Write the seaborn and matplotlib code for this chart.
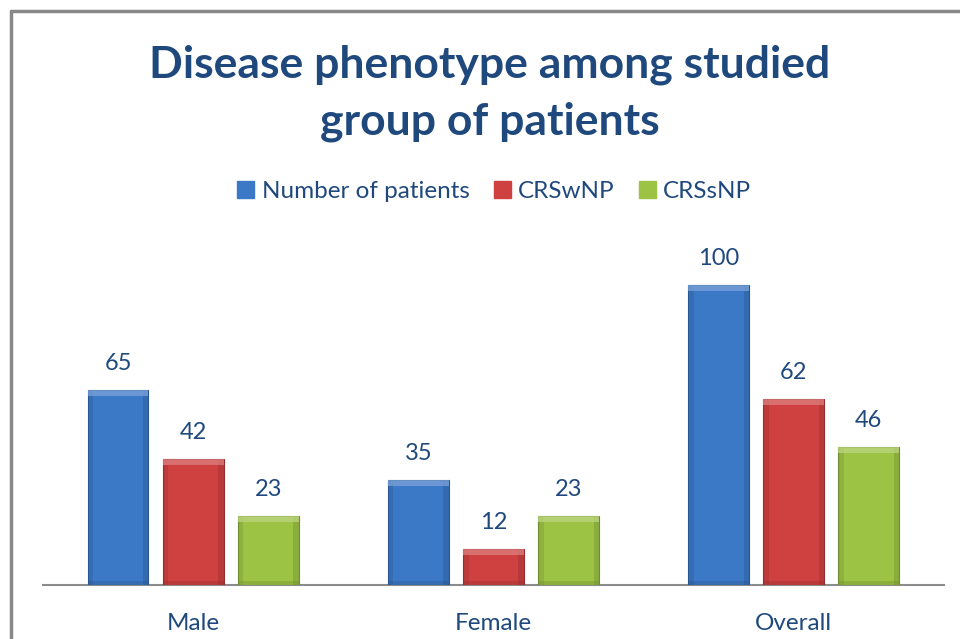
import matplotlib
matplotlib.use("Agg")
import matplotlib.pyplot as plt
import seaborn as sns
import pandas as pd
from matplotlib.patches import Rectangle, Patch
import matplotlib.colors as mcolors

categories = ["Male", "Female", "Overall"]
series_names = ["Number of patients", "CRSwNP", "CRSsNP"]
number_of_patients = [65, 35, 100]
crswnp = [42, 12, 62]
crssnp = [23, 23, 46]
title_text = "Disease phenotype among studied\ngroup of patients"

colors = ["#3B78C6", "#CF4141", "#9CC343"]
text_color = "#1F497D"

rows = []
for name, vals in zip(series_names, [number_of_patients, crswnp, crssnp]):
    for c, v in zip(categories, vals):
        rows.append({"category": c, "series": name, "value": v})
df = pd.DataFrame(rows)

sns.set_theme(style="white")
plt.rcParams["font.family"] = ["Lato", "DejaVu Sans"]

fig = plt.figure(figsize=(9.6, 6.39), dpi=100)
ax = fig.add_axes([0.0448, 0.0845, 0.9385, 0.5635])

sns.barplot(data=df, x="category", y="value", hue="series", order=categories,
            hue_order=series_names, palette=colors, width=0.75, gap=0.19,
            saturation=1, ax=ax, legend=False, zorder=3)

ax.set_ylim(0, 120)
ax.set_xlim(-0.5, 2.5)

# bevel effect and labels
for container, col in zip(ax.containers, colors):
    base = mcolors.to_rgb(col)
    dark = tuple(c * 0.72 for c in base)
    light = tuple(min(1, c + (1 - c) * 0.35) for c in base)
    for bar in container:
        x0, w, h = bar.get_x(), bar.get_width(), bar.get_height()
        bar.set_edgecolor(dark)
        bar.set_linewidth(0.8)
        sw = w * 0.09
        th = 2.0
        ax.add_patch(Rectangle((x0, 0), sw, h, color=dark, alpha=0.3, lw=0, zorder=4))
        ax.add_patch(Rectangle((x0 + w - sw, 0), sw, h, color=dark, alpha=0.4, lw=0, zorder=4))
        ax.add_patch(Rectangle((x0, h - th), w, th, color=light, alpha=0.7, lw=0, zorder=4))
        ax.add_patch(Rectangle((x0, 0), w, 1.5, color=dark, alpha=0.35, lw=0, zorder=4))
        ax.annotate(f"{int(h)}", (x0 + w / 2, h), xytext=(0, 19), textcoords="offset points",
                    ha="center", va="center", fontsize=17, color=text_color)

for s in ["top", "right", "left"]:
    ax.spines[s].set_visible(False)
ax.spines["bottom"].set_color("#8C8C8C")
ax.spines["bottom"].set_linewidth(1.5)
ax.set_yticks([])
ax.set_xlabel("")
ax.set_ylabel("")
ax.tick_params(axis="x", length=0, pad=20, labelsize=17.5, labelcolor=text_color)

fig.text(0.51, 0.8545, title_text, ha="center", va="center", fontsize=32,
         fontweight="bold", color=text_color, linespacing=1.5)

handles = [Patch(facecolor=c, edgecolor=mcolors.to_rgb(c)) for c in colors]
fig.legend(handles, series_names, loc="center", bbox_to_anchor=(0.515, 0.7),
           ncol=3, frameon=False, fontsize=17.5, handlelength=0.7, handleheight=0.7,
           handletextpad=0.3, columnspacing=1.0, labelcolor=text_color)

# chart frame
fig.add_artist(plt.Line2D([11 / 960, 11 / 960], [0, 1 - 11 / 639], color="#888888", lw=2.5,
                          transform=fig.transFigure))
fig.add_artist(plt.Line2D([11 / 960, 1], [1 - 11 / 639, 1 - 11 / 639], color="#888888", lw=2.5,
                          transform=fig.transFigure))

fig.savefig("out.png", dpi=100)
